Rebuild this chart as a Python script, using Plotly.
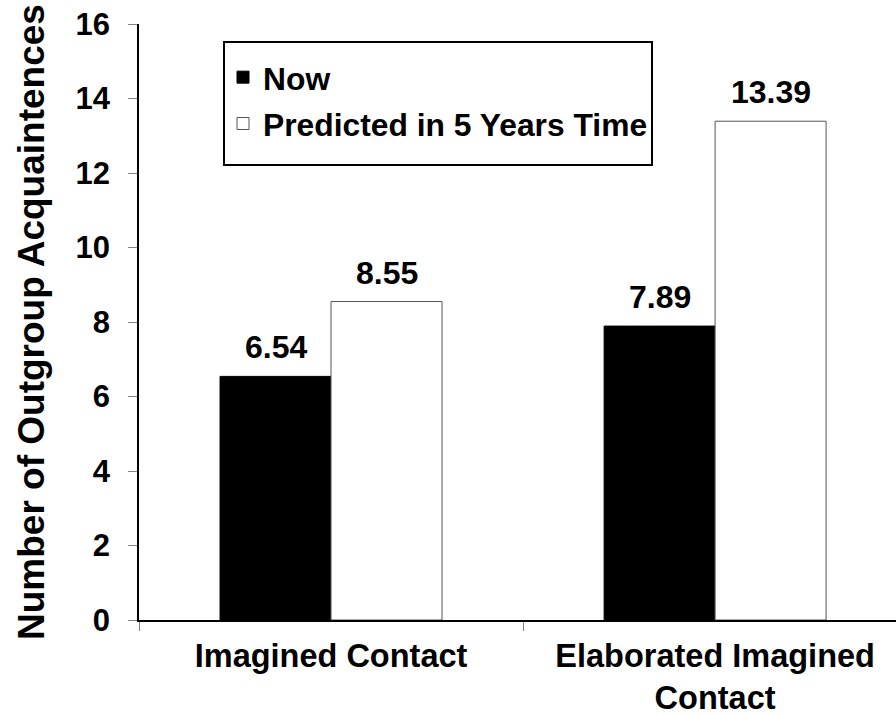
import plotly.graph_objects as go

categories = ["Imagined Contact", "Elaborated Imagined<br>Contact"]
now_values = [6.54, 7.89]
predicted_values = [8.55, 13.39]
series_names = ["Now", "Predicted in 5 Years Time"]
y_tick_vals = [0, 2, 4, 6, 8, 10, 12, 14, 16]
y_title = "Number of Outgroup Acquaintences"

FONT = "Liberation Sans, Arial, sans-serif"

# plot area in page pixels
PL, PR, PT, PB = 139, 896, 24, 620
PW, PH = PR - PL, PB - PT

fig = go.Figure()
fig.add_trace(go.Bar(
    x=categories, y=now_values, name=series_names[0], legendgroup="a",
    marker=dict(color="black", line=dict(color="black", width=1)),
))
fig.add_trace(go.Bar(
    x=categories, y=predicted_values, name=series_names[1], legendgroup="b",
    marker=dict(color="white", line=dict(color="#555555", width=1)),
))

# value labels
for vals, shift in ((now_values, -55.5), (predicted_values, 55.5)):
    for c, v in zip(categories, vals):
        fig.add_annotation(
            x=c, y=v, xref="x", yref="y", text=f"{v:.2f}",
            showarrow=False, xshift=shift, yanchor="bottom", yshift=9,
            font=dict(family=FONT, size=32, color="black", weight="bold"),
        )

# y axis title
fig.add_annotation(
    x=(31 - PL) / PW, y=(PB - 322) / PH, xref="paper", yref="paper",
    text=y_title, textangle=-90, showarrow=False,
    xanchor="center", yanchor="middle",
    font=dict(family=FONT, size=37, color="black", weight="bold"),
)

# legend frame
fig.add_shape(type="rect", xref="paper", yref="paper",
              x0=(224 - PL) / PW, x1=(652 - PL) / PW,
              y0=(PB - 165) / PH, y1=(PB - 42) / PH,
              line=dict(color="black", width=2), fillcolor="rgba(0,0,0,0)",
              layer="above")

fig.update_layout(
    width=896, height=715,
    margin=dict(l=PL, r=0, t=PT, b=715 - PB),
    paper_bgcolor="white", plot_bgcolor="white",
    barmode="group", bargap=0.422, bargroupgap=0,
    font=dict(family=FONT, color="black", weight="bold"),
    showlegend=True,
    legend=dict(
        x=(223 - PL) / PW, y=(PB - 50) / PH, xanchor="left", yanchor="top",
        borderwidth=0, bgcolor="rgba(0,0,0,0)",
        font=dict(family=FONT, size=31.8, color="black", weight="bold"),
        traceorder="grouped", tracegroupgap=2,
    ),
    xaxis=dict(
        range=[-0.5, 1.471], showline=True, linecolor="black", linewidth=1.5,
        ticks="outside", tickson="boundaries", ticklen=9, tickcolor="#808080",
        ticklabelstandoff=6, automargin=False,
        tickfont=dict(family=FONT, size=32.5, color="black", weight="bold"),
        showgrid=False, zeroline=False, fixedrange=True,
    ),
    yaxis=dict(
        range=[0, 16], tickvals=y_tick_vals, showline=True, linecolor="black",
        linewidth=1.5, ticks="outside", ticklen=9, tickcolor="#808080",
        ticklabelstandoff=12, ticklabeloverflow="allow", automargin=False,
        tickfont=dict(family=FONT, size=31, color="black", weight="bold"),
        showgrid=False, zeroline=False, fixedrange=True,
    ),
)

fig.write_html(
    "out.html",
    config={"displayModeBar": False},
    post_script="document.body.style.margin='0';document.body.style.overflow='hidden';",
)
